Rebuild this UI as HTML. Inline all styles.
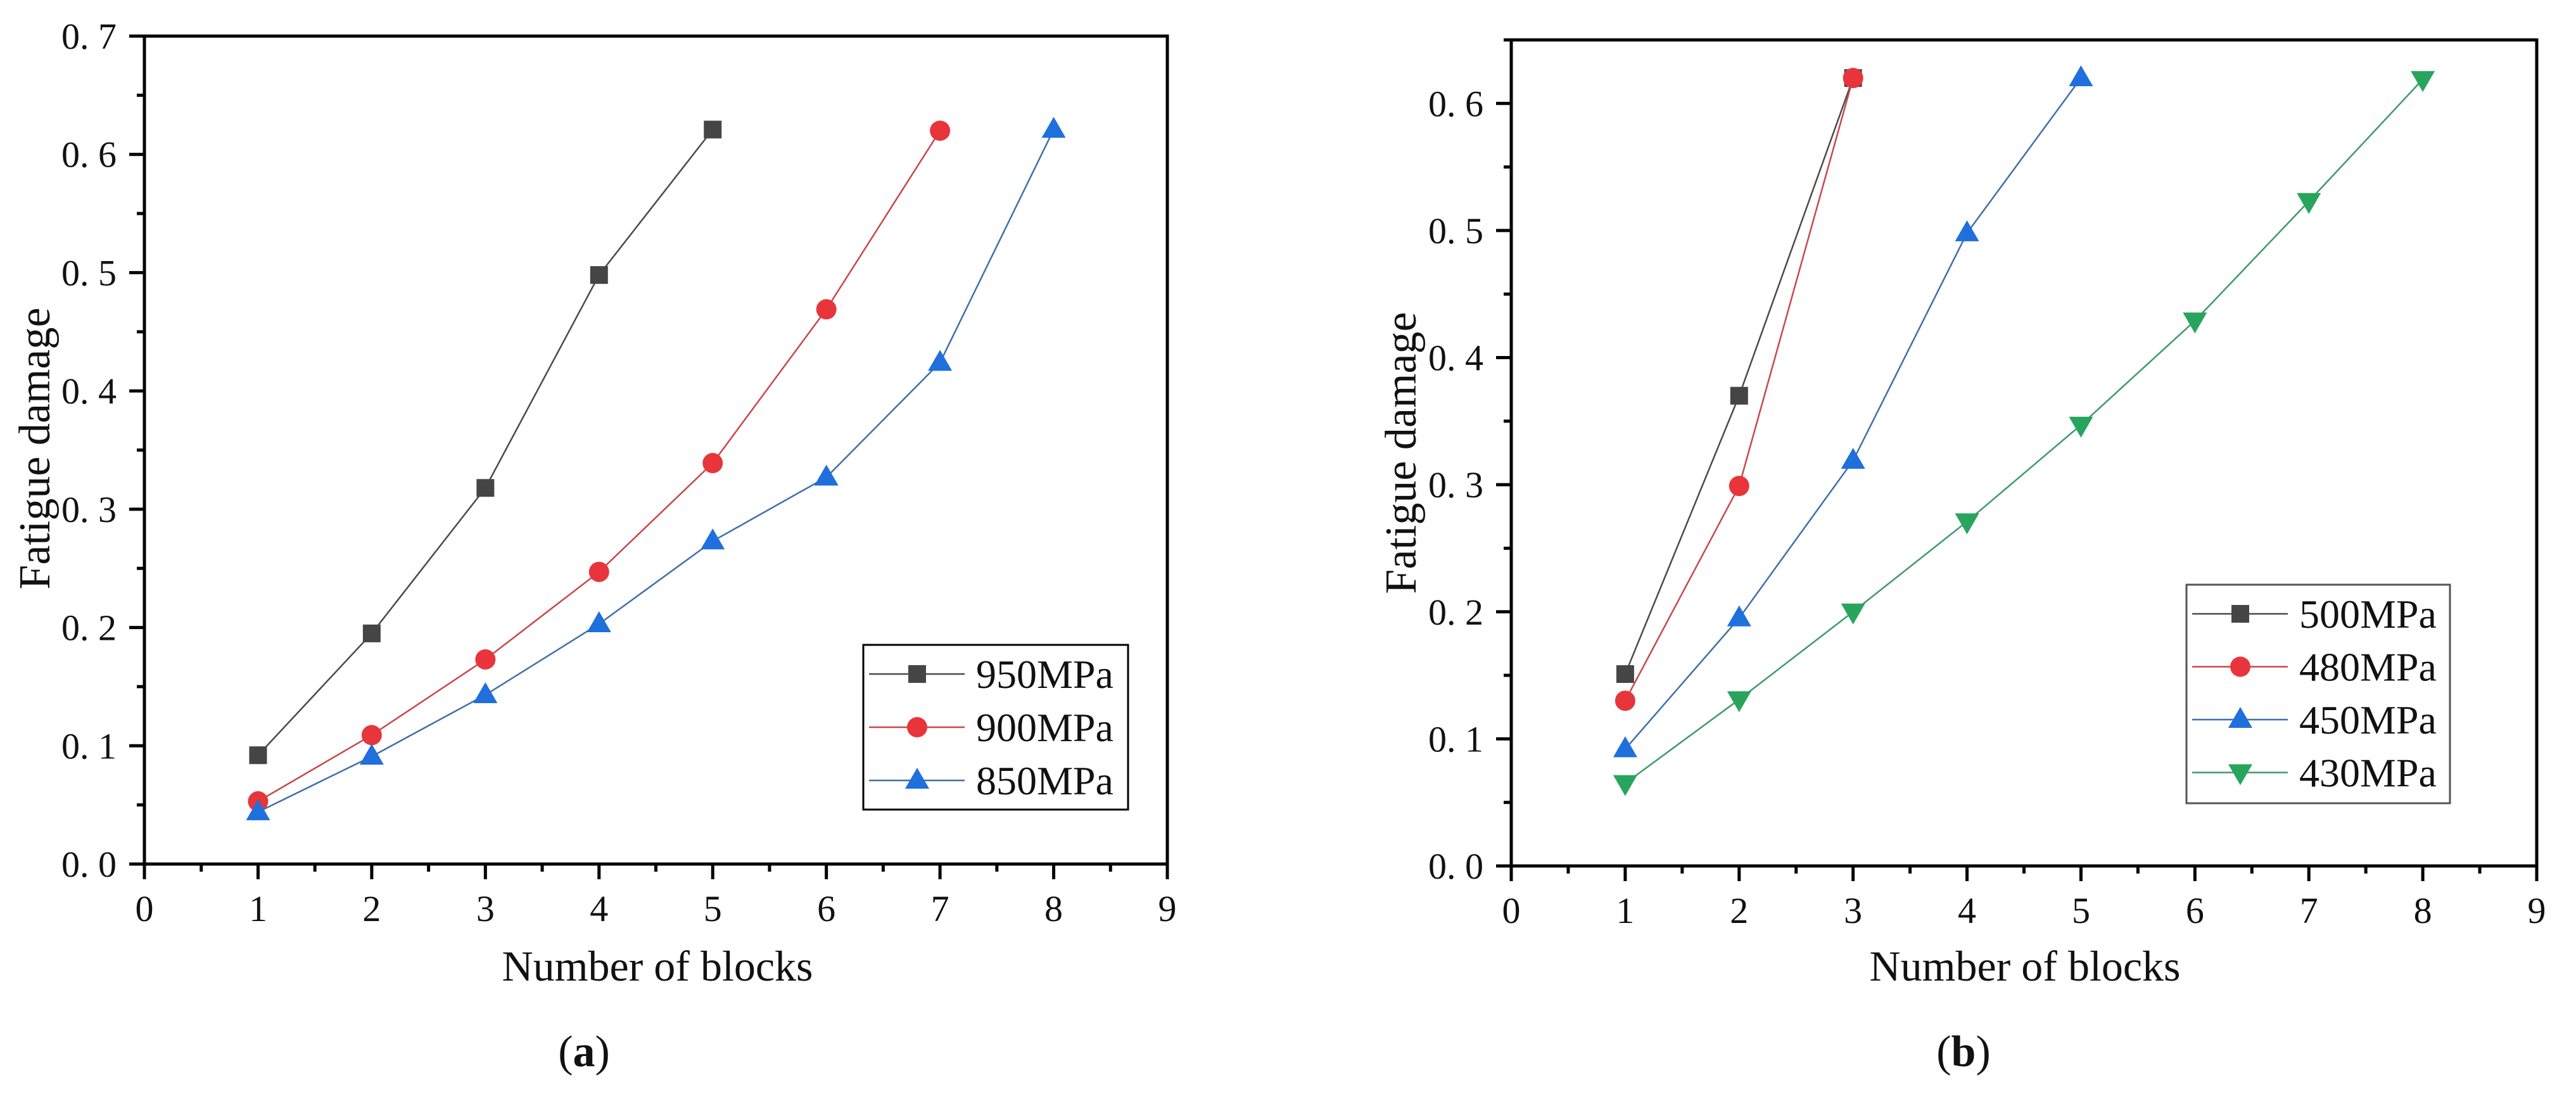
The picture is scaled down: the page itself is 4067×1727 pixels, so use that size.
<!DOCTYPE html>
<html><head><meta charset="utf-8"><style>
html,body{margin:0;padding:0;background:#fff;}
svg{display:block;}
text{font-family:"Liberation Serif",serif;fill:#111;}
</style></head><body>
<svg id="fig" width="4067" height="1727" viewBox="0 0 4067 1727" xmlns="http://www.w3.org/2000/svg"></svg>
<script>
const xTicks=[0,1,2,3,4,5,6,7,8,9];
const yTicksA=[0,0.1,0.2,0.3,0.4,0.5,0.6,0.7];
const yTicksB=[0,0.1,0.2,0.3,0.4,0.5,0.6];
const namesA=["950MPa","900MPa","850MPa"];
const a950=[0.092,0.195,0.318,0.498,0.621];
const a900=[0.053,0.109,0.173,0.247,0.339,0.469,0.620];
const a850=[0.044,0.091,0.143,0.203,0.273,0.327,0.424,0.621];
const namesB=["500MPa","480MPa","450MPa","430MPa"];
const b500=[0.151,0.370,0.620];
const b480=[0.130,0.299,0.620];
const b450=[0.092,0.195,0.319,0.498,0.620];
const b430=[0.065,0.131,0.200,0.271,0.347,0.429,0.523,0.619];

const NS="http://www.w3.org/2000/svg";
const svg=document.getElementById('fig');
function mk(tag,attrs,parent){const e=document.createElementNS(NS,tag);for(const k in attrs)e.setAttribute(k,attrs[k]);(parent||svg).appendChild(e);return e;}
const styles={
 sq:{fill:"#454545",line:"#4a4a4a"},
 ci:{fill:"#e8353b",line:"#c9474a"},
 tu:{fill:"#1f6fdc",line:"#3f6fa8"},
 td:{fill:"#27a55c",line:"#3d9a6a"}
};
function marker(g,type,x,y){
  const c=styles[type].fill;let m;
  if(type==='sq') m=mk('rect',{x:x-14,y:y-14,width:28,height:28,fill:c},g);
  else if(type==='ci') m=mk('circle',{cx:x,cy:y,r:16,fill:c},g);
  else if(type==='tu') m=mk('polygon',{points:`${x},${y-20} ${x-19},${y+13} ${x+19},${y+13}`,fill:c},g);
  else m=mk('polygon',{points:`${x},${y+20} ${x-19},${y-13} ${x+19},${y-13}`,fill:c},g);
  
  
}
function panel(id,L,R,T,B,ymax,yTicks,series,legend,titleX,titleY,ytX,ytY,lab,labX){
  const g=mk('g',{});
  
  
  const xs=v=>L+(R-L)*v/9, ys=v=>B-(B-T)*v/ymax;
  const fr=mk('rect',{x:L,y:T,width:R-L,height:B-T,fill:'none',stroke:'#000','stroke-width':5},g);
  
  
  xTicks.forEach(v=>{
    mk('line',{x1:xs(v),x2:xs(v),y1:B,y2:B+24,stroke:'#000','stroke-width':5},g);
    if(v<9) mk('line',{x1:xs(v+0.5),x2:xs(v+0.5),y1:B,y2:B+12,stroke:'#000','stroke-width':5},g);
    const t=mk('text',{x:xs(v),y:B+90,'text-anchor':'middle','font-size':58},g);t.textContent=String(v);
    
    
  });
  yTicks.forEach((v,i)=>{
    mk('line',{x1:L-24,x2:L,y1:ys(v),y2:ys(v),stroke:'#000','stroke-width':5},g);
    if(v+0.05<=ymax+1e-9) mk('line',{x1:L-12,x2:L,y1:ys(v+0.05),y2:ys(v+0.05),stroke:'#000','stroke-width':5},g);
    const t=mk('text',{x:L-44,y:ys(v)+20,'text-anchor':'end','font-size':58},g);t.textContent=v.toFixed(1).replace('.','. ');
    
    
  });
  series.forEach(s=>{
    const sg=mk('g',{},g);
    
    
    const pts=s.vals.map((v,i)=>xs(i+1)+','+ys(v)).join(' ');
    mk('polyline',{points:pts,fill:'none',stroke:styles[s.type].line,'stroke-width':2.5},sg);
    s.vals.forEach((v,i)=>marker(sg,s.type,xs(i+1),ys(v)));
  });
  const lg=mk('g',{},g);
  
  
  mk('rect',{x:legend.x,y:legend.y,width:legend.w,height:legend.h,fill:'#fff',stroke:legend.stroke,'stroke-width':3},lg);
  series.forEach((s,i)=>{
    const y=legend.r0+i*legend.dy;
    const e=mk('g',{},lg);
    
    
    mk('line',{x1:legend.x+9,x2:legend.x+160,y1:y,y2:y,stroke:styles[s.type].line,'stroke-width':2.5},e);
    marker(e,s.type,legend.x+85,y);
    const t=mk('text',{x:legend.x+178,y:y+22,'font-size':64},e);t.textContent=s.name;
  });
  const xt=mk('text',{x:titleX,y:titleY,'text-anchor':'middle','font-size':68},g);xt.textContent='Number of blocks';
  
  
  const yt=mk('text',{x:ytX,y:ytY,'text-anchor':'middle','font-size':70,transform:`rotate(-90 ${ytX} ${ytY})`},g);yt.textContent='Fatigue damage';
  
  
  const pl=mk('text',{x:labX,y:1683,'text-anchor':'middle','font-size':70},g);
  pl.innerHTML='(<tspan font-weight="bold">'+lab+'</tspan>)';
  
  
}
panel('panel-a',228,1843,57,1364,0.7,yTicksA,
 [{name:namesA[0],vals:a950,type:'sq'},{name:namesA[1],vals:a900,type:'ci'},{name:namesA[2],vals:a850,type:'tu'}],
 {x:1363,y:1018,w:418,h:260,r0:1064,dy:84,stroke:'#000'},1038,1548,78,708,'a',922);
panel('panel-b',2386,4005,63,1367,0.65,yTicksB,
 [{name:namesB[0],vals:b500,type:'sq'},{name:namesB[1],vals:b480,type:'ci'},{name:namesB[2],vals:b450,type:'tu'},{name:namesB[3],vals:b430,type:'td'}],
 {x:3452,y:923,w:416,h:345,r0:969,dy:83.5,stroke:'#555'},3197,1548,2235,715,'b',3100);
</script>
</body></html>
